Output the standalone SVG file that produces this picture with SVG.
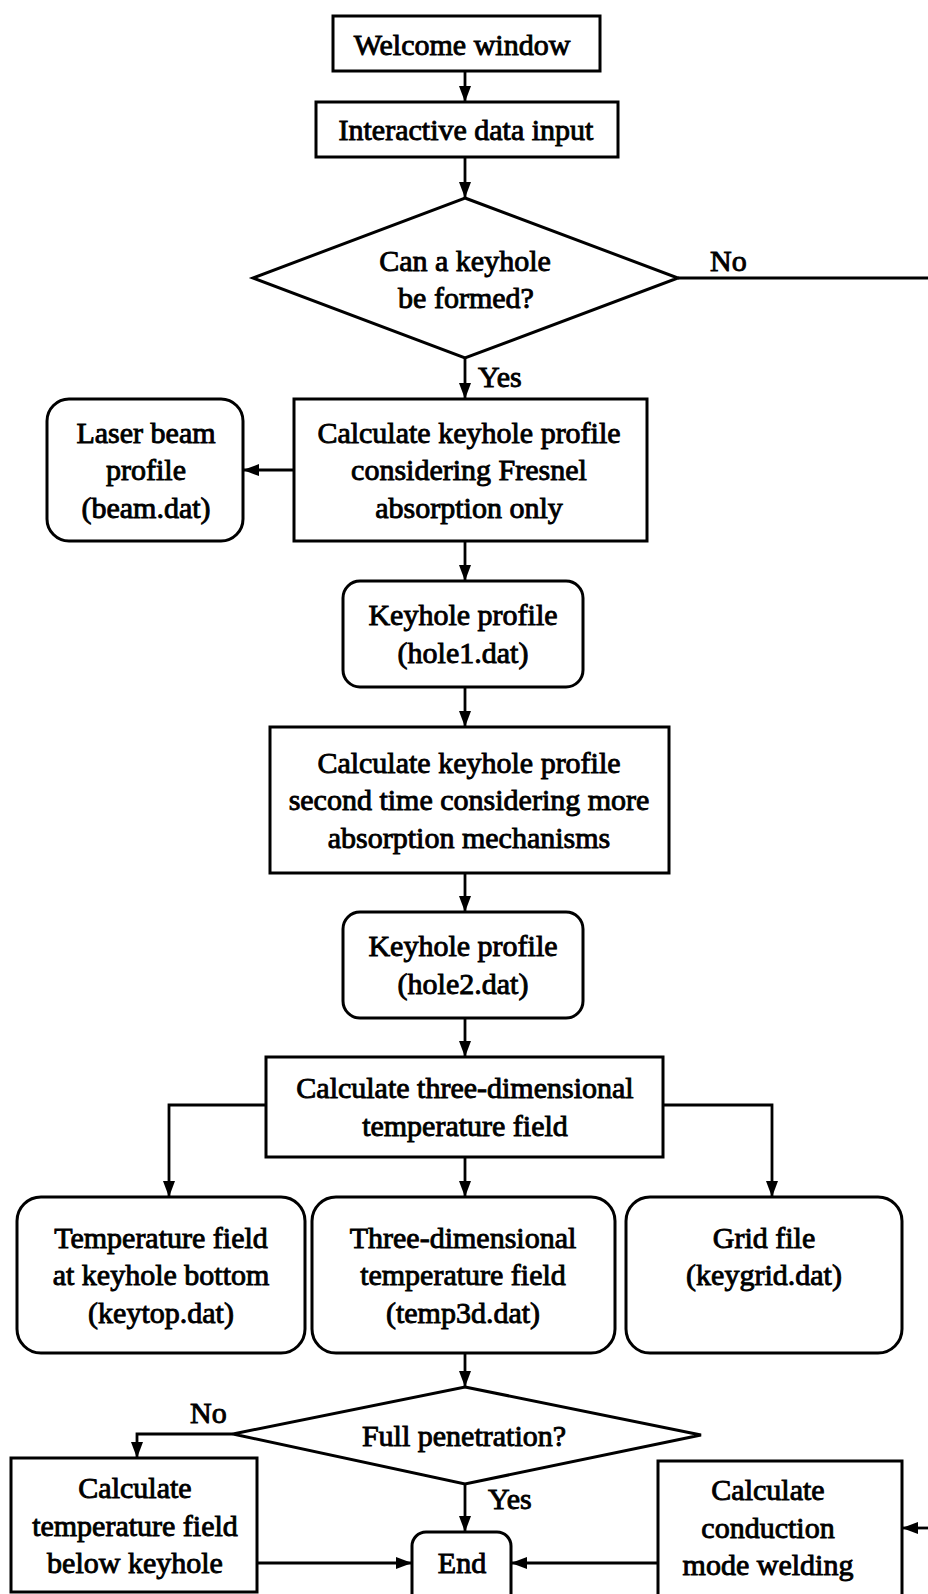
<svg xmlns="http://www.w3.org/2000/svg" width="928" height="1594" viewBox="0 0 928 1594">
  <style>
    .box { fill: #ffffff; stroke: #000000; stroke-width: 3; }
    .edge { fill: none; stroke: #000000; stroke-width: 2.8; }
    .arrow { marker-end: url(#head); }
    text { font-family: "Liberation Serif", "Times New Roman", serif; font-size: 30px; fill: #000000; stroke: #000000; stroke-width: 0.9; text-anchor: middle; }
    text.lbl { text-anchor: start; }
  </style>
  <defs>
    <marker id="head" markerUnits="userSpaceOnUse" markerWidth="17" markerHeight="12" refX="16" refY="6" orient="auto">
      <path d="M0,0 L16,6 L0,12 z" fill="#000000"/>
    </marker>
  </defs>

  <rect width="928" height="1594" fill="#ffffff"/>

  <!-- connectors -->
  <g id="connectors">
    <line class="edge arrow" x1="465" y1="71" x2="465" y2="102"/>
    <line class="edge arrow" x1="465" y1="157" x2="465" y2="198"/>
    <line class="edge" x1="678" y1="278" x2="928" y2="278"/>
    <line class="edge arrow" x1="465" y1="358" x2="465" y2="399"/>
    <line class="edge arrow" x1="294" y1="470" x2="243" y2="470"/>
    <line class="edge arrow" x1="465" y1="541" x2="465" y2="581"/>
    <line class="edge arrow" x1="465" y1="687" x2="465" y2="727"/>
    <line class="edge arrow" x1="465" y1="873" x2="465" y2="912"/>
    <line class="edge arrow" x1="465" y1="1018" x2="465" y2="1057"/>
    <polyline class="edge arrow" points="266,1105 169,1105 169,1197"/>
    <line class="edge arrow" x1="465" y1="1157" x2="465" y2="1197"/>
    <polyline class="edge arrow" points="663,1105 772,1105 772,1197"/>
    <line class="edge arrow" x1="465" y1="1353" x2="465" y2="1387"/>
    <polyline class="edge arrow" points="233,1434 137,1434 137,1458"/>
    <line class="edge arrow" x1="465" y1="1484" x2="465" y2="1532"/>
    <line class="edge arrow" x1="257" y1="1563" x2="412" y2="1563"/>
    <line class="edge arrow" x1="658" y1="1563" x2="511" y2="1563"/>
    <line class="edge arrow" x1="928" y1="1528" x2="902" y2="1528"/>
    <text class="lbl" x="710" y="271">No</text>
    <text class="lbl" x="478" y="387">Yes</text>
    <text class="lbl" x="190" y="1423">No</text>
    <text class="lbl" x="488" y="1509">Yes</text>
  </g>

  <g id="welcome">
    <rect class="box" x="333" y="16" width="267" height="55"/>
    <text x="462" y="55">Welcome window</text>
  </g>

  <g id="data-input">
    <rect class="box" x="316" y="102" width="302" height="55"/>
    <text x="466" y="140">Interactive data input</text>
  </g>

  <g id="keyhole-decision">
    <polygon class="box" points="465,198 678,278 465,358 253,278"/>
    <text x="465" y="271">Can a keyhole</text>
    <text x="466" y="308">be formed?</text>
  </g>

  <g id="calc-fresnel">
    <rect class="box" x="294" y="399" width="353" height="142"/>
    <text x="469" y="443">Calculate keyhole profile</text>
    <text x="469" y="480">considering Fresnel</text>
    <text x="469" y="518">absorption only</text>
  </g>

  <g id="beam-file">
    <rect class="box" x="47" y="399" width="196" height="142" rx="22"/>
    <text x="146" y="443">Laser beam</text>
    <text x="146" y="480">profile</text>
    <text x="146" y="518">(beam.dat)</text>
  </g>

  <g id="hole1-file">
    <rect class="box" x="343" y="581" width="240" height="106" rx="17"/>
    <text x="463" y="625">Keyhole profile</text>
    <text x="463" y="663">(hole1.dat)</text>
  </g>

  <g id="calc-second">
    <rect class="box" x="270" y="727" width="399" height="146"/>
    <text x="469" y="773">Calculate keyhole profile</text>
    <text x="469" y="810">second time considering more</text>
    <text x="469" y="848">absorption mechanisms</text>
  </g>

  <g id="hole2-file">
    <rect class="box" x="343" y="912" width="240" height="106" rx="17"/>
    <text x="463" y="956">Keyhole profile</text>
    <text x="463" y="994">(hole2.dat)</text>
  </g>

  <g id="calc-3d">
    <rect class="box" x="266" y="1057" width="397" height="100"/>
    <text x="465" y="1098">Calculate three-dimensional</text>
    <text x="465" y="1136">temperature field</text>
  </g>

  <g id="keytop-file">
    <rect class="box" x="17" y="1197" width="288" height="156" rx="24"/>
    <text x="161" y="1248">Temperature field</text>
    <text x="161" y="1285">at keyhole bottom</text>
    <text x="161" y="1323">(keytop.dat)</text>
  </g>

  <g id="temp3d-file">
    <rect class="box" x="312" y="1197" width="303" height="156" rx="24"/>
    <text x="463" y="1248">Three-dimensional</text>
    <text x="463" y="1285">temperature field</text>
    <text x="463" y="1323">(temp3d.dat)</text>
  </g>

  <g id="grid-file">
    <rect class="box" x="626" y="1197" width="276" height="156" rx="24"/>
    <text x="764" y="1248">Grid file</text>
    <text x="764" y="1285">(keygrid.dat)</text>
  </g>

  <g id="penetration-decision">
    <polygon class="box" points="465,1387 701,1435 465,1484 233,1434"/>
    <text x="464" y="1446">Full penetration?</text>
  </g>

  <g id="calc-below">
    <rect class="box" x="11" y="1458" width="246" height="134"/>
    <text x="135" y="1498">Calculate</text>
    <text x="135" y="1536">temperature field</text>
    <text x="135" y="1573">below keyhole</text>
  </g>

  <g id="end">
    <rect class="box" x="412" y="1532" width="99" height="80" rx="14"/>
    <text x="462" y="1573">End</text>
  </g>

  <g id="calc-conduction">
    <rect class="box" x="658" y="1461" width="244" height="150"/>
    <text x="768" y="1500">Calculate</text>
    <text x="768" y="1538">conduction</text>
    <text x="768" y="1575">mode welding</text>
  </g>
</svg>
